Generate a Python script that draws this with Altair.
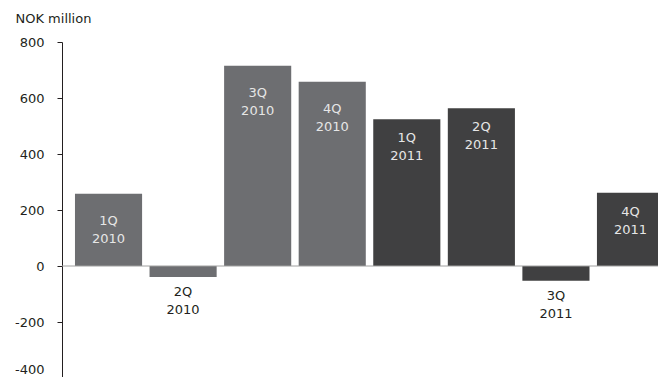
import altair as alt
import pandas as pd

quarters = ["1Q", "2Q", "3Q", "4Q", "1Q", "2Q", "3Q", "4Q"]
years = ["2010", "2010", "2010", "2010", "2011", "2011", "2011", "2011"]
values = [258, -39, 715, 658, 524, 563, -53, 262]
y_ticks = [-400, -200, 0, 200, 400, 600, 800]

df = pd.DataFrame({
    "key": [f"{q} {y}" for q, y in zip(quarters, years)],
    "label": [f"{q}\n{y}" for q, y in zip(quarters, years)],
    "year": years,
    "value": values,
})

FONT = "DejaVu Sans"

x = alt.X("key:N", sort=None, axis=None,
          scale=alt.Scale(paddingInner=0.1, paddingOuter=0.1, align=0.87))
y = alt.Y("value:Q",
          scale=alt.Scale(domain=[-400, 800], nice=False, zero=False),
          axis=alt.Axis(values=y_ticks, grid=False,
                        labelExpr="replace(datum.label, '\u2212', '-')",
                        labelOffset={"condition": {"test": "datum.value == -400", "value": -9},
                                     "value": 0},
                        domainColor="#231f20", tickColor="#231f20", tickSize=5,
                        labelPadding=13, labelFont=FONT, labelFontSize=13,
                        labelColor="#231f20", title="NOK million", titleAngle=0,
                        titleAlign="left", titleBaseline="middle", titleX=-47,
                        titleY=-24, titleFont=FONT, titleFontSize=13,
                        titleFontWeight="normal", titleColor="#231f20"))

bars = alt.Chart(df).mark_bar().encode(
    x=x, y=y,
    color=alt.Color("year:N", scale=alt.Scale(domain=["2010", "2011"],
                                              range=["#6d6e71", "#404041"]), legend=None),
)

zero = alt.Chart(pd.DataFrame({"v": [0]})).mark_rule(color="#a0a0a0", strokeWidth=1).encode(
    y=alt.Y("v:Q"))

def text_layer(flt, dy, color):
    return alt.Chart(df).transform_filter(flt).mark_text(
        baseline="top", dy=dy, lineBreak="\n", lineHeight=18, font=FONT, fontSize=13,
        color=color).encode(x=x, y=alt.Y("value:Q"), text="label:N")

t2010 = text_layer("datum.value >= 0 && datum.year == '2010'", 21, "#e6e6e6")
t2011 = text_layer("datum.value >= 0 && datum.year == '2011'", 13, "#e6e6e6")
tneg = text_layer("datum.value < 0", 9, "#231f20")

chart = alt.layer(bars, zero, t2010, t2011, tneg).properties(
    width=604, height=336,
    autosize=alt.AutoSizeParams(type="none"),
    padding={"left": 54, "top": 34, "right": -8, "bottom": -1},
).configure_view(stroke=None)

chart.save("out.html", embed_options={"renderer": "svg", "actions": False})
